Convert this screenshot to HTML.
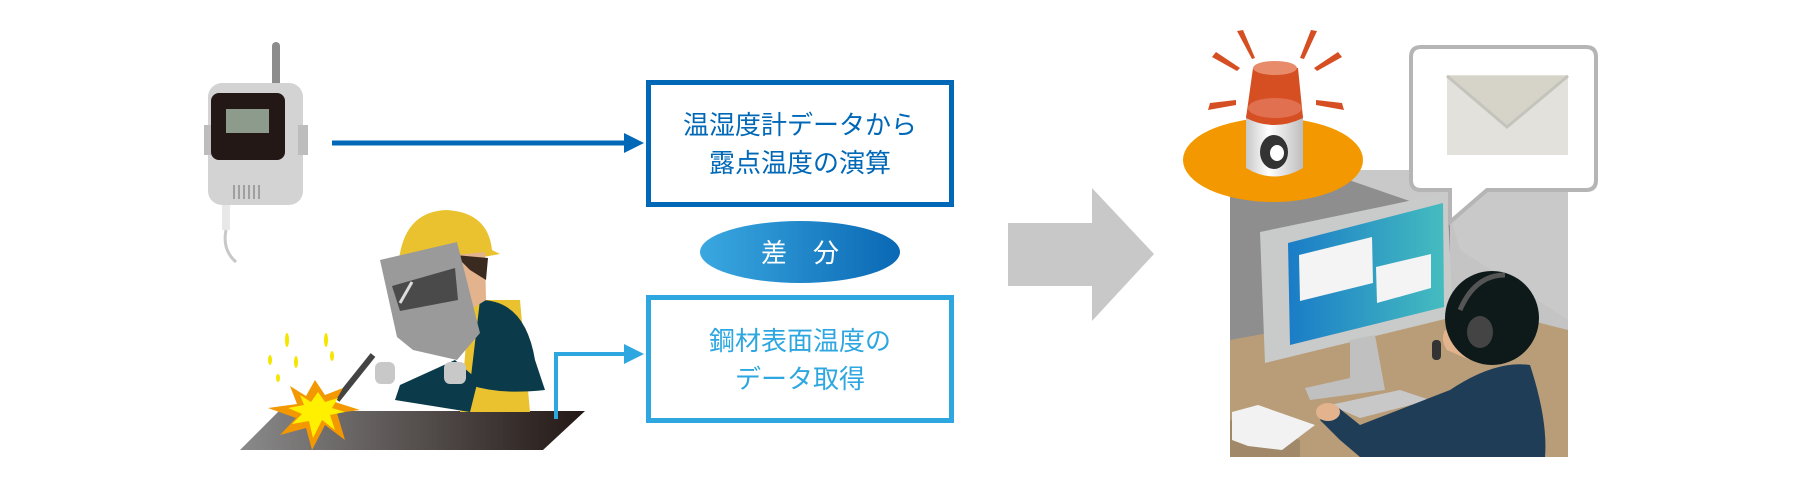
<!DOCTYPE html>
<html><head><meta charset="utf-8"><style>
html,body{margin:0;padding:0;background:#fff;}
svg{display:block}
text{font-family:"Liberation Sans","Noto Sans CJK JP",sans-serif;}
</style></head><body>
<svg width="1800" height="500" viewBox="0 0 1800 500" xmlns="http://www.w3.org/2000/svg">
<defs>
<linearGradient id="plate" x1="0" x2="1"><stop offset="0" stop-color="#8a8a8a"/><stop offset="1" stop-color="#231815"/></linearGradient>
<linearGradient id="ell" x1="0" x2="1"><stop offset="0" stop-color="#3aa8e0"/><stop offset="1" stop-color="#0a68b4"/></linearGradient>
<linearGradient id="scr" x1="0" x2="1"><stop offset="0" stop-color="#1a7cc7"/><stop offset="1" stop-color="#45bcbf"/></linearGradient>
<linearGradient id="cyl" x1="0" x2="1"><stop offset="0" stop-color="#c8c8c8"/><stop offset="0.4" stop-color="#fff"/><stop offset="1" stop-color="#bdbdbd"/></linearGradient>
</defs>

<!-- sensor -->
<rect x="272" y="42" width="8" height="50" rx="4" fill="#8c8c8c"/>
<rect x="208" y="83" width="95" height="122" rx="14" fill="#d3d3d3"/>
<rect x="204" y="125" width="10" height="30" fill="#bdbdbd"/>
<rect x="298" y="125" width="10" height="30" fill="#bdbdbd"/>
<rect x="211" y="93" width="74" height="67" rx="8" fill="#231815"/>
<rect x="226" y="109" width="43" height="24" fill="#8c9b8c"/>
<g fill="#a0a0a0"><rect x="233" y="185" width="2" height="14"/><rect x="238" y="185" width="2" height="14"/><rect x="243" y="185" width="2" height="14"/><rect x="248" y="185" width="2" height="14"/><rect x="253" y="185" width="2" height="14"/><rect x="258" y="185" width="2" height="14"/></g>
<rect x="222" y="205" width="8" height="25" fill="#e8e8e8"/>
<path d="M226 230 Q222 250 236 262" stroke="#c8c8c8" stroke-width="3" fill="none"/>

<!-- arrow 1 -->
<line x1="332" y1="143" x2="628" y2="143" stroke="#0068b7" stroke-width="5"/>
<polygon points="624,133 644,143 624,153" fill="#0068b7"/>

<!-- top box -->
<rect x="648.5" y="82.5" width="303" height="122" fill="#fff" stroke="#0068b7" stroke-width="5"/>
<text x="800" y="134" font-size="26" fill="#0068b7" text-anchor="middle">温湿度計データから</text>
<text x="800" y="172" font-size="26" fill="#0068b7" text-anchor="middle">露点温度の演算</text>

<!-- ellipse -->
<ellipse cx="800" cy="252" rx="100" ry="31" fill="url(#ell)"/>
<text x="800" y="262" font-size="26" fill="#fff" text-anchor="middle">差　分</text>

<!-- bottom box -->
<rect x="648.5" y="297.5" width="303" height="123" fill="#fff" stroke="#2ea7e0" stroke-width="5"/>
<text x="800" y="350" font-size="26" fill="#2ea7e0" text-anchor="middle">鋼材表面温度の</text>
<text x="800" y="388" font-size="26" fill="#2ea7e0" text-anchor="middle">データ取得</text>

<!-- welder -->
<polygon points="240,450 279,411 585,411 543,450" fill="url(#plate)"/>
<polyline points="556,419 556,354 628,354" stroke="#2ea7e0" stroke-width="4" fill="none"/>
<polygon points="624,344 644,354 624,364" fill="#2ea7e0"/>
<path d="M398 272 Q400 212 446 210 Q488 212 492 250 L500 254 L398 272Z" fill="#eac22f"/>
<polygon points="470,300 520,300 530,412 460,412" fill="#eac22f"/>
<path d="M480 300 Q525 300 535 360 L545 390 Q500 395 470 385 Z" fill="#0b3a4a"/>
<path d="M455 360 L400 385 L395 400 L470 412 L478 380Z" fill="#0b3a4a"/>
<path d="M455 255 L485 252 L486 300 L470 310 Z" fill="#e2b38c"/>
<path d="M455 255 L488 258 L486 280 L470 270Z" fill="#3a2a20"/>
<polygon points="380,260 457,242 480,333 457,360 413,350 397,337" fill="#9a9a9a"/>
<polygon points="392,286 455,268 458,300 400,311" fill="#4a4a4a"/>
<line x1="400" y1="303" x2="412" y2="282" stroke="#ddd" stroke-width="3"/>
<line x1="373" y1="355" x2="337" y2="400" stroke="#444" stroke-width="6"/>
<rect x="375" y="362" width="20" height="22" rx="6" fill="#c8c8c8"/>
<rect x="444" y="362" width="22" height="22" rx="6" fill="#c8c8c8"/>
<polygon points="315,380 325,395 343,388 335,402 360,410 337,413 345,440 325,425 312,450 306,428 280,435 296,418 268,408 297,404 290,386 306,396" fill="#f39800"/>
<polygon points="318,392 325,402 338,398 332,408 345,412 330,415 335,430 322,420 313,438 309,421 292,424 302,414 288,408 304,405 300,395 311,402" fill="#fff000"/>
<g fill="#f5e600"><ellipse cx="287" cy="340" rx="2" ry="7"/><ellipse cx="296" cy="362" rx="2" ry="6"/><ellipse cx="326" cy="340" rx="2" ry="7"/><ellipse cx="332" cy="356" rx="2" ry="5"/><ellipse cx="270" cy="360" rx="2" ry="5"/><ellipse cx="278" cy="378" rx="2" ry="4"/></g>

<!-- big arrow -->
<polygon points="1008,223 1092,223 1092,188 1154,254 1092,321 1092,286 1008,286" fill="#c8c8c8"/>

<!-- office scene -->
<rect x="1230" y="170" width="338" height="287" fill="#c9c9c9"/>
<polygon points="1230,170 1320,170 1450,215 1450,457 1230,457" fill="#8e8e8e"/>
<polygon points="1450,215 1450,457 1568,457 1568,320 1460,250" fill="#c4c4c4"/>
<polygon points="1230,340 1450,300 1568,330 1568,457 1230,457" fill="#b89d78"/>
<polygon points="1230,420 1300,440 1300,457 1230,457" fill="#a08868"/>
<!-- monitor -->
<polygon points="1260,232 1447,193 1453,317 1265,363" fill="#c9caca"/>
<polygon points="1288,243 1443,203 1444,307 1290,345" fill="url(#scr)"/>
<polygon points="1299,255 1372,237 1373,283 1300,301" fill="#f4f4f4"/>
<polygon points="1376,267 1431,254 1431,288 1377,303" fill="#f4f4f4"/>
<polygon points="1350,340 1375,335 1385,390 1310,400 1305,388 1350,378" fill="#c0c0c0"/>
<polygon points="1330,405 1400,390 1430,400 1360,418" fill="#c8c8c8"/>
<polygon points="1232,412 1258,405 1315,425 1282,450 1248,446 1232,440" fill="#f2f2f2"/>
<!-- person -->
<path d="M1450 390 Q1495 360 1530 365 Q1548 420 1545 457 L1360 457 L1340 440 L1320 420 L1335 405 L1360 425 Z" fill="#1f3d56"/>
<ellipse cx="1328" cy="412" rx="12" ry="9" fill="#e2b38c"/>
<path d="M1445 330 Q1440 340 1447 350 L1470 360 L1480 340 Z" fill="#e2b38c"/>
<circle cx="1492" cy="318" r="47" fill="#0e1a1a"/>
<path d="M1460 310 Q1475 275 1505 275" stroke="#555" stroke-width="5" fill="none"/>
<ellipse cx="1480" cy="332" rx="13" ry="16" fill="#444"/>
<rect x="1432" y="340" width="9" height="20" rx="4" fill="#333"/>
<!-- beacon -->
<ellipse cx="1273" cy="160" rx="90" ry="42" fill="#f39800"/>
<path d="M1246 115 L1246 168 Q1274 185 1303 168 L1303 115 Z" fill="url(#cyl)"/>
<ellipse cx="1274" cy="152" rx="14" ry="17" fill="#333"/>
<ellipse cx="1277" cy="153" rx="7" ry="8" fill="#fff"/>
<path d="M1253 68 L1246 118 Q1274 132 1303 118 L1298 68 Z" fill="#d54f23"/>
<ellipse cx="1275" cy="68" rx="22" ry="7" fill="#e88b6a"/>
<ellipse cx="1275" cy="108" rx="27" ry="10" fill="#e07050"/>
<g fill="#d54f23">
<polygon points="1237,31 1243,30 1255,58 1252,59"/>
<polygon points="1311,30 1317,31 1304,59 1300,58"/>
<polygon points="1212,57 1216,52 1240,68 1237,71"/>
<polygon points="1338,52 1342,57 1317,71 1314,68"/>
<polygon points="1208,110 1210,103 1236,100 1236,105"/>
<polygon points="1342,103 1344,110 1316,105 1316,100"/>
</g>
<!-- bubble -->
<path d="M1421 47 L1586 47 Q1596 47 1596 57 L1596 180 Q1596 190 1586 190 L1487 190 L1450 222 L1450 190 L1421 190 Q1411 190 1411 180 L1411 57 Q1411 47 1421 47 Z" fill="#fff" stroke="#b5b5b5" stroke-width="4"/>
<rect x="1447" y="75" width="121" height="80" fill="#e3e1dc"/>
<polyline points="1447,76 1507,127 1568,76" stroke="#c4c4bc" stroke-width="3" fill="#d6d4c8"/>
</svg>
</body></html>
